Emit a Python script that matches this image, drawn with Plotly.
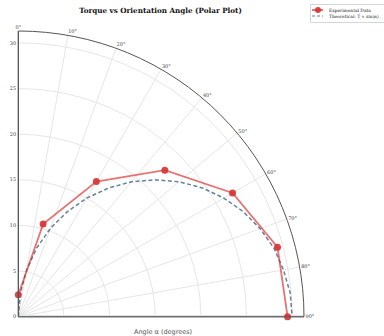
import plotly.graph_objects as go

# Data
alpha_deg = [0, 15, 30, 45, 60, 75, 90]
torque_exp = [2.4, 10.5, 17.1, 22.7, 27.1, 29.4, 29.5]

theory_alpha = [0, 5, 10, 15, 20, 25, 30, 35, 40, 45, 50, 55, 60, 65, 70, 75, 80, 85, 90]
theory_torque = [0.0, 2.6, 5.2, 7.8, 10.3, 12.7, 15.0, 17.2, 19.3, 21.2, 23.0, 24.6,
                 26.0, 27.2, 28.2, 29.0, 29.5, 29.9, 30.0]

angular_ticks = [0, 10, 20, 30, 40, 50, 60, 70, 80, 90]
angular_labels = [f"{a}°" for a in angular_ticks]
radial_ticks = [0, 5, 10, 15, 20, 25, 30]
legend_labels = ["Experimental Data", "Theoretical: T ∝ sin(α)"]

W, H = 384, 336
EXP_LINE = "rgba(220,40,40,0.65)"
EXP_MARK = "rgba(214,50,50,0.9)"
TH_LINE = "rgba(60,100,130,0.8)"


def px(x):
    return x / W


def py(y):
    return 1 - y / H


fig = go.Figure()

fig.add_trace(go.Scatterpolar(
    r=theory_torque, theta=theory_alpha, mode="lines",
    name=legend_labels[1],
    line=dict(color=TH_LINE, width=1.5, dash="4px,2.5px"),
))
fig.add_trace(go.Scatterpolar(
    r=torque_exp, theta=alpha_deg, mode="lines+markers",
    name=legend_labels[0],
    line=dict(color=EXP_LINE, width=1.8),
    marker=dict(color=EXP_MARK, size=7),
))

# compact legend (decoration, drawn in paper coordinates)
legend_shapes = [
    dict(type="rect", xref="paper", yref="paper", x0=px(310.5), x1=px(390), y0=py(22.5), y1=py(4.5),
         line=dict(color="#cccccc", width=0.8), fillcolor="white", layer="above"),
    dict(type="line", xref="paper", yref="paper", x0=px(312), x1=px(323), y0=py(10), y1=py(10),
         line=dict(color=EXP_LINE, width=2), layer="above"),
    dict(type="circle", xref="paper", yref="paper", x0=px(315), x1=px(321), y0=py(13), y1=py(7),
         line=dict(color=EXP_MARK, width=0), fillcolor=EXP_MARK, layer="above"),
    dict(type="line", xref="paper", yref="paper", x0=px(312), x1=px(323), y0=py(16), y1=py(16),
         line=dict(color=TH_LINE, width=1.2, dash="3px,2px"), layer="above"),
]
legend_annots = [
    dict(text=legend_labels[0], x=px(326.5), y=py(10), xref="paper", yref="paper",
         xanchor="left", yanchor="middle", showarrow=False,
         font=dict(family="DejaVu Serif", size=4.4, color="#222")),
    dict(text=legend_labels[1], x=px(326.5), y=py(16), xref="paper", yref="paper",
         xanchor="left", yanchor="middle", showarrow=False,
         font=dict(family="DejaVu Serif", size=4.4, color="#222")),
]

fig.update_layout(
    width=W, height=H,
    margin=dict(l=0, r=0, t=0, b=0, autoexpand=False),
    paper_bgcolor="white", plot_bgcolor="white",
    font=dict(family="DejaVu Serif", color="#333"),
    title=dict(text="<b>Torque vs Orientation Angle (Polar Plot)</b>",
               x=0.418, xanchor="center", y=0.97, yanchor="middle",
               font=dict(family="DejaVu Serif", size=7.2, color="#111")),
    showlegend=False,
    polar=dict(
        domain=dict(x=[0.0477, 0.7917], y=[0.0575, 0.9077]),
        sector=[0, 90],
        bgcolor="rgba(0,0,0,0)",
        angularaxis=dict(
            rotation=90, direction="clockwise",
            tickmode="array", tickvals=angular_ticks, ticktext=angular_labels,
            tickfont=dict(family="DejaVu Serif", size=5, color="#444"),
            showline=True, linecolor="#555", linewidth=1,
            gridcolor="#e6e6e6", gridwidth=1, ticks="",
        ),
        radialaxis=dict(
            range=[0, 31.3], angle=90, tickangle=90,
            tickmode="array", tickvals=radial_ticks,
            tickfont=dict(family="DejaVu Serif", size=5, color="#444"),
            showline=True, linecolor="#555", linewidth=1,
            gridcolor="#e6e6e6", gridwidth=1, ticks="", side="counterclockwise",
        ),
    ),
    annotations=[dict(text="Angle α (degrees)", x=0.424, y=0.012, xref="paper", yref="paper",
                      xanchor="center", yanchor="middle", showarrow=False,
                      font=dict(family="DejaVu Sans", size=6.5, color="#555"))] + legend_annots,
    shapes=[dict(type="line", xref="paper", yref="paper",
                 x0=0.0477, x1=0.7917, y0=0.0575, y1=0.0575,
                 line=dict(color="#c4c4c4", width=2.5), layer="below")] + legend_shapes,
)

fig.write_html("out.html", config={"displayModeBar": False},
               post_script="document.body.style.margin='0';document.body.style.padding='0';")
